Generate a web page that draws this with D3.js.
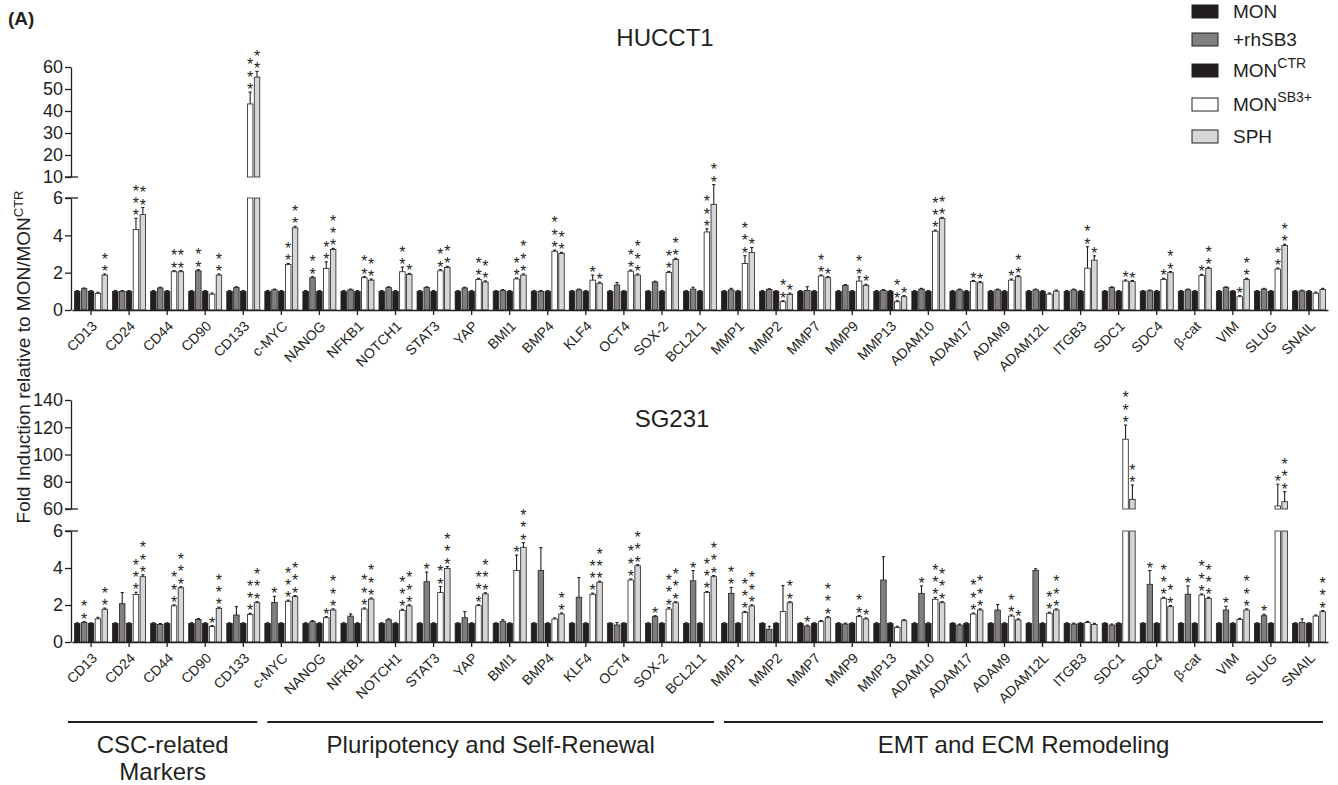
<!DOCTYPE html>
<html>
<head>
<meta charset="utf-8">
<script src="https://cdn.jsdelivr.net/npm/d3@7"></script>
<style>
  body { margin: 0; background: #fff; }
  svg { display: block; font-family: "Liberation Sans", Arial, sans-serif; }
</style>
</head>
<body>
<script>
// genes on the x axis
const genes = ["CD13","CD24","CD44","CD90","CD133","c-MYC","NANOG","NFKB1","NOTCH1","STAT3","YAP","BMI1","BMP4","KLF4","OCT4","SOX-2","BCL2L1","MMP1","MMP2","MMP7","MMP9","MMP13","ADAM10","ADAM17","ADAM9","ADAM12L","ITGB3","SDC1","SDC4","β-cat","VIM","SLUG","SNAIL"];

// legend entries: [text, superscript]
const seriesNames = [["MON",""],["+rhSB3",""],["MON","CTR"],["MON","SB3+"],["SPH",""]];

// gene groups under the bottom panel
const groupNames = [["CSC-related","Markers"],["Pluripotency and Self-Renewal"],["EMT and ECM Remodeling"]];
const groupFrom = ["CD13","c-MYC","MMP1"];
const groupTo = ["CD133","BCL2L1","SNAIL"];

// ---- HUCCT1 ----
const hucMon = [1,1,1,1,1, 1,1,1,1,1, 1,1,1,1,1, 1,1,1,1,1, 1,1,1,1,1, 1,1,1,1,1, 1,1,1];
const hucRh  = [1.14,1.0,1.18,2.1,1.2, 1.08,1.73,1.08,1.2,1.2, 1.18,1.05,1.0,1.08,1.34, 1.5,1.12,1.08,1.1,1.05, 1.32,1.05,1.12,1.08,1.08, 1.08,1.08,1.2,1.03,1.08, 1.2,1.12,1.02];
const hucCtr = [1,1,1,1,1, 1,1,1,1,1, 1,1,1,1,1, 1,1,1,1,1, 1,1,1,1,1, 1,1,1,1,1, 1,1,1];
const hucSb3 = [0.89,4.31,2.05,0.85,43.2, 2.44,2.23,1.73,2.05,2.1, 1.64,1.66,3.15,1.6,2.08, 2.01,4.18,2.49,0.44,1.82, 1.55,0.44,4.22,1.52,1.6, 0.85,2.24,1.55,1.64,1.85, 0.71,2.19,0.9];
const hucSph = [1.87,5.11,2.05,1.87,55.4, 4.4,3.24,1.6,1.9,2.28, 1.5,1.87,3.03,1.43,1.87, 2.71,5.66,3.08,0.84,1.73, 1.32,0.71,4.9,1.46,1.78, 1.01,2.67,1.52,2.0,2.23, 1.64,3.46,1.1];

const hucMonErr = [0.04,0.04,0.04,0.04,0.04, 0.04,0.04,0.04,0.04,0.04, 0.04,0.04,0.04,0.04,0.04, 0.04,0.04,0.04,0.04,0.04, 0.04,0.04,0.04,0.04,0.04, 0.04,0.04,0.04,0.04,0.04, 0.04,0.04,0.04];
const hucRhErr  = [0.04,0.04,0.04,0.06,0.04, 0.04,0.05,0.04,0.04,0.04, 0.04,0.04,0.04,0.04,0.13, 0.04,0.1,0.08,0.04,0.2, 0.04,0.04,0.04,0.04,0.04, 0.04,0.04,0.04,0.04,0.04, 0.04,0.04,0.04];
const hucCtrErr = [0.04,0.04,0.04,0.04,0.04, 0.04,0.04,0.04,0.04,0.04, 0.04,0.04,0.04,0.04,0.04, 0.04,0.04,0.04,0.04,0.04, 0.04,0.04,0.04,0.04,0.04, 0.04,0.04,0.04,0.04,0.04, 0.04,0.04,0.04];
const hucSb3Err = [0.06,0.6,0.06,0.06,5.4, 0.06,0.35,0.06,0.25,0.06, 0.06,0.06,0.06,0.27,0.06, 0.06,0.17,0.42,0.06,0.06, 0.23,0.06,0.06,0.06,0.06, 0.06,1.15,0.06,0.06,0.06, 0.06,0.06,0.06];
const hucSphErr = [0.06,0.38,0.06,0.06,2.6, 0.08,0.06,0.06,0.06,0.06, 0.06,0.06,0.06,0.06,0.06, 0.06,0.9,0.27,0.06,0.06, 0.06,0.06,0.06,0.06,0.06, 0.06,0.23,0.06,0.06,0.06, 0.06,0.06,0.06];

const hucMonStars = [0,0,0,0,0, 0,0,0,0,0, 0,0,0,0,0, 0,0,0,0,0, 0,0,0,0,0, 0,0,0,0,0, 0,0,0];
const hucRhStars  = [0,0,0,2,0, 0,2,0,0,0, 0,0,0,0,0, 0,0,0,0,0, 0,0,0,0,0, 0,0,0,0,0, 0,0,0];
const hucCtrStars = [0,0,0,0,0, 0,0,0,0,0, 0,0,0,0,0, 0,0,0,0,0, 0,0,0,0,0, 0,0,0,0,0, 0,0,0];
const hucSb3Stars = [0,3,2,0,3, 2,2,2,2,2, 2,2,3,1,2, 2,3,3,2,2, 2,2,3,1,1, 0,2,1,1,1, 1,2,0];
const hucSphStars = [2,2,2,2,2, 2,3,2,1,2, 2,3,2,1,3, 2,2,1,1,1, 1,1,2,1,2, 0,1,1,2,2, 2,2,0];

// ---- SG231 ----
const sgMon = [1,1,1,1,1, 1,1,1,1,1, 1,1,1,1,1, 1,1,1,1,1, 1,1,1,1,1, 1,1,1,1,1, 1,1,1];
const sgRh  = [1.05,2.07,0.95,1.22,1.46, 2.14,1.1,1.4,1.2,3.26, 1.31,1.12,3.86,2.42,0.92, 1.37,3.31,2.63,0.69,0.86, 0.97,3.35,2.63,0.92,1.73, 3.86,0.97,0.92,3.12,2.58, 1.73,1.42,1.05];
const sgCtr = [1,1,1,1,1, 1,1,1,1,1, 1,1,1,1,1, 1,1,1,1,1, 1,1,1,1,1, 1,1,1,1,1, 1,1,1];
const sgSb3 = [1.25,2.57,1.95,0.83,1.49, 2.2,1.31,1.78,1.71,2.67, 1.96,3.86,1.24,2.58,3.35, 1.78,2.67,1.59,1.64,1.1, 1.37,0.79,2.31,1.51,1.4, 1.55,1.05,111.2,2.36,2.54, 1.22,62.2,1.4];
const sgSph = [1.77,3.53,2.93,1.82,2.12, 2.45,1.73,2.32,1.95,3.98, 2.6,5.12,1.51,3.23,4.12, 2.12,3.53,1.95,2.12,1.31, 1.24,1.15,2.12,1.73,1.19, 1.73,0.95,67.1,1.91,2.36, 1.73,65.4,1.64];

const sgMonErr = [0.04,0.04,0.04,0.04,0.04, 0.04,0.04,0.04,0.04,0.04, 0.04,0.04,0.04,0.04,0.04, 0.04,0.04,0.04,0.04,0.04, 0.04,0.04,0.04,0.04,0.04, 0.04,0.04,0.04,0.04,0.04, 0.04,0.04,0.04];
const sgRhErr  = [0.05,0.6,0.05,0.05,0.45, 0.33,0.05,0.12,0.05,0.52, 0.33,0.08,1.24,1.06,0.13, 0.05,0.55,0.32,0.16,0.05, 0.05,1.26,0.4,0.05,0.3, 0.1,0.05,0.05,0.74,0.45, 0.2,0.08,0.2];
const sgCtrErr = [0.04,0.04,0.04,0.04,0.04, 0.04,0.04,0.04,0.04,0.04, 0.04,0.04,0.04,0.04,0.04, 0.04,0.04,0.04,0.04,0.04, 0.04,0.04,0.04,0.04,0.04, 0.04,0.04,0.04,0.04,0.04, 0.04,0.04,0.04];
const sgSb3Err = [0.08,0.12,0.06,0.06,0.06, 0.06,0.06,0.06,0.06,0.33, 0.06,0.84,0.06,0.06,0.06, 0.08,0.06,0.06,1.41,0.06, 0.06,0.06,0.1,0.06,0.06, 0.06,0.06,10.4,0.06,0.06, 0.06,16,0.06];
const sgSphErr = [0.06,0.1,0.06,0.06,0.06, 0.06,0.06,0.06,0.06,0.1, 0.06,0.25,0.06,0.06,0.06, 0.06,0.06,0.06,0.06,0.06, 0.06,0.06,0.06,0.06,0.06, 0.06,0.06,10.5,0.06,0.06, 0.06,7.3,0.06];

const sgMonStars = [0,0,0,0,0, 0,0,0,0,0, 0,0,0,0,0, 0,0,0,0,0, 0,0,0,0,0, 0,0,0,0,0, 0,0,0];
const sgRhStars  = [2,0,0,0,0, 1,0,0,0,1, 0,0,0,0,0, 1,1,2,0,1, 0,0,1,0,0, 0,0,0,1,1, 1,1,0];
const sgCtrStars = [0,0,0,0,0, 0,0,0,0,0, 0,0,0,0,0, 0,0,0,0,0, 0,0,0,0,0, 0,0,0,0,0, 0,0,0];
const sgSb3Stars = [0,3,3,1,3, 3,1,3,3,2, 3,1,0,3,3, 3,3,3,0,0, 2,0,3,3,2, 2,0,3,3,3, 0,1,0];
const sgSphStars = [2,3,3,3,3, 3,3,3,3,3, 3,3,2,3,3, 3,3,3,2,3, 1,0,3,3,1, 3,0,2,2,3, 3,3,3];

const W = 1338, H = 785;
const ink = "#231f20";
const fills = [ink, "#808080", ink, "#ffffff", "#d6d6d6"];
const axisX = 71;

const svg = d3.select("body").append("svg")
  .attr("width", W)
  .attr("height", H);

const x = d3.scaleBand().domain(genes).range([72, 1328]);
const xs = d3.scaleBand().domain(d3.range(5)).range([-16.5, 16.5]).paddingInner(0.2);

const panels = [
  { title: "HUCCT1", tx: 665, ty: 46,
    vals: [hucMon, hucRh, hucCtr, hucSb3, hucSph],
    errs: [hucMonErr, hucRhErr, hucCtrErr, hucSb3Err, hucSphErr],
    stars: [hucMonStars, hucRhStars, hucCtrStars, hucSb3Stars, hucSphStars],
    base: 310, lowTop: 198, hi: [10, 60], hiRange: [177, 67], hiTicks: [10,20,30,40,50,60] },
  { title: "SG231", tx: 672, ty: 427,
    vals: [sgMon, sgRh, sgCtr, sgSb3, sgSph],
    errs: [sgMonErr, sgRhErr, sgCtrErr, sgSb3Err, sgSphErr],
    stars: [sgMonStars, sgRhStars, sgCtrStars, sgSb3Stars, sgSphStars],
    base: 642, lowTop: 531, hi: [60, 140], hiRange: [509, 400], hiTicks: [60,80,100,120,140] }
];

function styleAxis(sel, size) {
  sel.attr("font-size", size).attr("font-family", null);
  sel.selectAll("text").attr("fill", ink);
  sel.selectAll("line,path").attr("stroke", ink).attr("stroke-width", 1.3);
}

function drawPanel(p) {
  const yLo = d3.scaleLinear().domain([0, 6]).range([p.base, p.lowTop]);
  const yHi = d3.scaleLinear().domain(p.hi).range(p.hiRange);
  const yOf = v => v <= 6 ? yLo(v) : yHi(v);
  const g = svg.append("g");

  const rows = [];
  genes.forEach((gene, i) => {
    p.vals.forEach((arr, s) => {
      rows.push({ gene: gene, s: s, v: arr[i], e: p.errs[s][i], n: p.stars[s][i] });
    });
  });

  const bw = xs.bandwidth();
  const bar = g.selectAll("g.bar")
    .data(rows)
    .join("g")
    .attr("class", "bar")
    .attr("transform", d => "translate(" + (x(d.gene) + x.bandwidth() / 2 + xs(d.s)) + ",0)");

  bar.each(function (d) {
    const b = d3.select(this);
    const segs = d.v <= 6
      ? [[p.base, yLo(d.v)]]
      : [[p.base, yLo(6)], [yHi(p.hi[0]), yHi(d.v)]];
    segs.forEach(sg => {
      b.append("rect")
        .attr("x", 0)
        .attr("width", bw)
        .attr("y", sg[1])
        .attr("height", sg[0] - sg[1])
        .attr("fill", fills[d.s])
        .attr("stroke", ink)
        .attr("stroke-width", 0.8);
    });
    const cx = bw / 2;
    const yt = yOf(d.v), ye = yOf(d.v + d.e);
    b.append("line").attr("x1", cx).attr("x2", cx).attr("y1", yt).attr("y2", ye)
      .attr("stroke", ink).attr("stroke-width", 1.1);
    b.append("line").attr("x1", cx - 1.6).attr("x2", cx + 1.6).attr("y1", ye).attr("y2", ye)
      .attr("stroke", ink).attr("stroke-width", 1.1);
    if (d.n > 0) {
      // one text per stack of significance stars
      const st = b.append("text")
        .attr("text-anchor", "middle")
        .attr("font-size", 16)
        .attr("fill", ink);
      for (let k = 0; k < d.n; k++) {
        st.append("tspan")
          .attr("x", cx)
          .attr("y", ye - 6 - 12.3 * k + 9)
          .text("*");
      }
    }
  });

  // y axes (broken)
  g.append("g")
    .attr("transform", "translate(" + axisX + ",0)")
    .call(d3.axisLeft(yLo).tickValues([0, 2, 4, 6]).tickFormat(d3.format("d"))
      .tickSize(6).tickSizeOuter(0).tickPadding(2))
    .call(styleAxis, 18);
  g.append("g")
    .attr("transform", "translate(" + axisX + ",0)")
    .call(d3.axisLeft(yHi).tickValues(p.hiTicks).tickFormat(d3.format("d"))
      .tickSize(6).tickSizeOuter(0).tickPadding(2))
    .call(styleAxis, 18);
  [yLo(6), yHi(p.hi[0])].forEach(yy => {
    g.append("line").attr("x1", axisX - 6).attr("x2", axisX + 7).attr("y1", yy).attr("y2", yy)
      .attr("stroke", ink).attr("stroke-width", 1.3);
  });

  // x axis with slanted gene names
  const xa = g.append("g")
    .attr("transform", "translate(0," + p.base + ")")
    .call(d3.axisBottom(x).tickSize(5).tickSizeOuter(0))
    .call(styleAxis, 14);
  xa.selectAll("text")
    .attr("x", 0)
    .attr("y", 0)
    .attr("dy", null)
    .attr("text-anchor", "end")
    .attr("transform", "translate(7,17) rotate(-45)");

  svg.append("text")
    .attr("x", p.tx)
    .attr("y", p.ty)
    .attr("text-anchor", "middle")
    .attr("font-size", 24)
    .attr("fill", ink)
    .text(p.title);
}

panels.forEach(drawPanel);

// panel letter
svg.append("text")
  .attr("x", 8).attr("y", 25)
  .attr("font-size", 19).attr("font-weight", "bold").attr("fill", ink)
  .text("(A)");

// y label
svg.append("text")
  .attr("transform", "translate(30,357) rotate(-90)")
  .attr("text-anchor", "middle")
  .attr("font-size", 19)
  .attr("fill", ink)
  .call(t => {
    t.append("tspan").text("Fold Induction relative to MON/MON");
    t.append("tspan").attr("dy", -7).attr("font-size", 13).text("CTR");
  });

// legend
const legendY = [5, 33, 64, 98, 130];
const lg = svg.append("g");
seriesNames.forEach((nm, i) => {
  lg.append("rect")
    .attr("x", 1192).attr("y", legendY[i])
    .attr("width", 26).attr("height", 13)
    .attr("fill", fills[i]).attr("stroke", ink).attr("stroke-width", 1);
  const t = lg.append("text")
    .attr("x", 1233).attr("y", legendY[i] + 13)
    .attr("font-size", 19).attr("fill", ink);
  t.append("tspan").text(nm[0]);
  if (nm[1]) t.append("tspan").attr("dy", -9).attr("font-size", 14).text(nm[1]);
});

// gene group brackets
groupNames.forEach((lines, i) => {
  const x1 = x(groupFrom[i]) + (i === 0 ? -4 : 5);
  const x2 = x(groupTo[i]) + x.bandwidth() - 5;
  svg.append("line")
    .attr("x1", x1).attr("x2", x2).attr("y1", 722).attr("y2", 722)
    .attr("stroke", ink).attr("stroke-width", 2.2);
  const t = svg.append("text")
    .attr("text-anchor", "middle")
    .attr("font-size", 24)
    .attr("fill", ink);
  lines.forEach((ln, j) => {
    t.append("tspan").attr("x", (x1 + x2) / 2).attr("y", 753 + j * 27).text(ln);
  });
});
</script>
</body>
</html>
